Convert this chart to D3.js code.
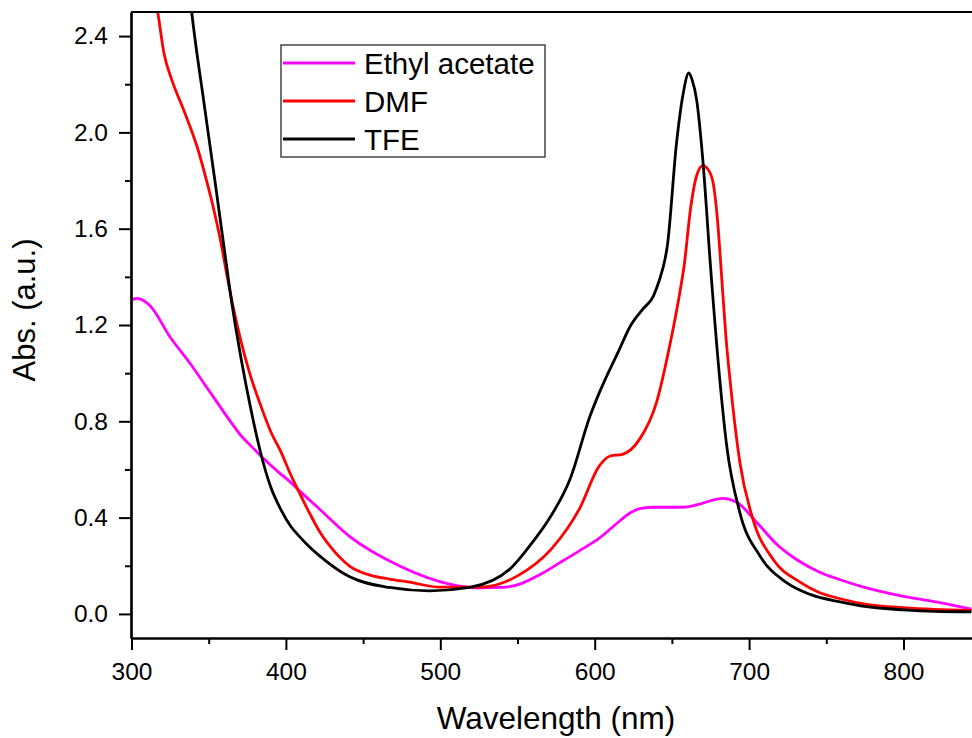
<!DOCTYPE html>
<html>
<head>
<meta charset="utf-8">
<script src="https://cdn.jsdelivr.net/npm/d3@7"></script>
<style>
  html, body { margin: 0; padding: 0; background: #fff; }
  svg { display: block; font-family: "Liberation Sans", Arial, sans-serif; }
</style>
</head>
<body>
<svg id="chart" width="972" height="738"></svg>
<script>
// ---------- data (wavelength nm, absorbance a.u.) ----------
const seriesNames = ["Ethyl acetate", "DMF", "TFE"];
const seriesColors = ["#FF00FF", "#FF0000", "#000000"];

const ethylAcetate = [
  [300, 1.305], [304, 1.31], [312, 1.28], [325, 1.15], [338, 1.04], [351, 0.92],
  [364, 0.80], [371, 0.74], [377, 0.70], [384, 0.655], [395, 0.59], [403, 0.547],
  [409, 0.51], [421, 0.44], [441, 0.323], [474, 0.198], [506, 0.124], [525, 0.108],
  [540, 0.11], [552, 0.125], [565, 0.165], [578, 0.215], [590, 0.262], [603, 0.315],
  [616, 0.385], [623, 0.42], [630, 0.438], [638, 0.443], [655, 0.443], [662, 0.447],
  [668, 0.456], [675, 0.47], [683, 0.48], [692, 0.464], [705, 0.38], [717, 0.295],
  [731, 0.225], [745, 0.175], [759, 0.142], [776, 0.108], [800, 0.073], [819, 0.052],
  [844, 0.02]
];

const dmf = [
  [310, 2.75], [317, 2.5], [321, 2.33], [326, 2.22], [334, 2.09], [343, 1.93],
  [349, 1.79], [354, 1.66], [358, 1.54], [362, 1.4], [366, 1.27], [371, 1.13],
  [377, 0.99], [384, 0.86], [390, 0.76], [397, 0.67], [403, 0.58], [409, 0.5],
  [416, 0.41], [422, 0.34], [430, 0.27], [441, 0.2], [455, 0.16], [467, 0.145],
  [480, 0.132], [500, 0.111], [526, 0.111], [550, 0.158], [572, 0.27], [590, 0.435],
  [603, 0.615], [610, 0.656], [618, 0.663], [629, 0.725], [640, 0.878], [649, 1.127],
  [655, 1.33], [658, 1.45], [662, 1.68], [666, 1.82], [670, 1.862], [674, 1.84],
  [677, 1.78], [680, 1.6], [682, 1.42], [685, 1.15], [688, 0.95], [694, 0.63],
  [702.5, 0.393], [715.5, 0.227], [733, 0.132], [745, 0.09], [759, 0.063], [776, 0.04],
  [800, 0.026], [820, 0.019], [844, 0.015]
];

const tfe = [
  [335, 2.75], [339, 2.5], [347, 2.12], [354, 1.8], [360, 1.52], [365, 1.29],
  [371, 1.06], [377, 0.86], [384, 0.66], [390, 0.53], [397, 0.43], [403, 0.365],
  [409, 0.32], [415, 0.28], [422, 0.24], [441, 0.155], [467, 0.11], [493, 0.096],
  [519, 0.11], [545, 0.186], [552, 0.235], [560, 0.3], [570, 0.39], [584, 0.559],
  [597, 0.822], [603, 0.919], [616, 1.099], [623, 1.195], [631, 1.265], [638, 1.32],
  [642, 1.389], [645.5, 1.472], [647, 1.527], [653, 1.956], [657, 2.15], [661, 2.247],
  [663, 2.22], [666, 2.136], [670, 1.888], [675, 1.444], [681, 0.974], [685.5, 0.698],
  [694, 0.421], [707, 0.241], [724, 0.131], [740, 0.08], [759, 0.05], [776, 0.03],
  [800, 0.017], [820, 0.011], [844, 0.009]
];

const seriesData = [ethylAcetate, dmf, tfe];

const xMajorTicks = [300, 400, 500, 600, 700, 800];
const xMinorTicks = [350, 450, 550, 650, 750];
const yMajorTicks = [0, 0.4, 0.8, 1.2, 1.6, 2.0, 2.4];
const yMinorTicks = [0.2, 0.6, 1.0, 1.4, 1.8, 2.2];

// ---------- layout ----------
const W = 972, H = 738;
const pLeft = 131, pTop = 12, pBottom = 638, pRight = 972;

const x = d3.scaleLinear().domain([300, 850]).range([131.5, 131.5 + 550 * 1.544]);
const y = d3.scaleLinear().domain([-0.1, 2.5]).range([pBottom, pTop]);

const svg = d3.select("#chart");

svg.append("defs").append("clipPath").attr("id", "plotClip")
  .append("rect").attr("x", pLeft).attr("y", pTop)
  .attr("width", pRight - pLeft).attr("height", pBottom - pTop);

// lines
const line = d3.line().x(d => x(d[0])).y(d => y(d[1])).curve(d3.curveMonotoneX);
const plot = svg.append("g").attr("clip-path", "url(#plotClip)");
seriesData.forEach((s, i) => {
  plot.append("path").datum(s)
    .attr("fill", "none")
    .attr("stroke", seriesColors[i])
    .attr("stroke-width", 2.8)
    .attr("stroke-linejoin", "round")
    .attr("d", line);
});

// top frame line
svg.append("line").attr("x1", pLeft).attr("x2", pRight).attr("y1", pTop).attr("y2", pTop)
  .attr("stroke", "#000").attr("stroke-width", 2.2);

// axes
const fmt = d3.format(".1f");
const yAxis = svg.append("g").attr("transform", `translate(${pLeft},0)`)
  .call(d3.axisLeft(y).tickValues(yMajorTicks).tickFormat(fmt).tickSize(12).tickSizeOuter(0).tickPadding(11));
const yMinor = svg.append("g").attr("transform", `translate(${pLeft},0)`)
  .call(d3.axisLeft(y).tickValues(yMinorTicks).tickFormat("").tickSize(6).tickSizeOuter(0));
const xAxis = svg.append("g").attr("transform", `translate(0,${pBottom})`)
  .call(d3.axisBottom(x).tickValues(xMajorTicks).tickFormat(d3.format("d")).tickSize(12).tickSizeOuter(0).tickPadding(13));
const xMinor = svg.append("g").attr("transform", `translate(0,${pBottom})`)
  .call(d3.axisBottom(x).tickValues(xMinorTicks).tickFormat("").tickSize(6).tickSizeOuter(0));

[yAxis, yMinor, xAxis, xMinor].forEach(g => {
  g.selectAll(".domain").attr("stroke", "#000").attr("stroke-width", 2.2);
  g.selectAll(".tick line").attr("stroke", "#000").attr("stroke-width", 2);
  g.selectAll("text").attr("font-size", 24.5).attr("fill", "#000")
    .attr("font-family", "'Liberation Sans', Arial, sans-serif");
});

// axis titles
svg.append("text")
  .attr("x", 556).attr("y", 729)
  .attr("text-anchor", "middle")
  .attr("font-size", 31.5).attr("fill", "#000")
  .text("Wavelength (nm)");

svg.append("text")
  .attr("transform", "translate(35,310) rotate(-90)")
  .attr("text-anchor", "middle")
  .attr("font-size", 31).attr("fill", "#000")
  .text("Abs. (a.u.)");

// legend
const legend = svg.append("g");
legend.append("rect").attr("x", 281).attr("y", 45).attr("width", 264).attr("height", 112)
  .attr("fill", "#fff").attr("stroke", "#444").attr("stroke-width", 1.5);
const rowY = [63, 101, 139];
seriesNames.forEach((name, i) => {
  legend.append("line").attr("x1", 283).attr("x2", 355)
    .attr("y1", rowY[i]).attr("y2", rowY[i])
    .attr("stroke", seriesColors[i]).attr("stroke-width", 3);
  legend.append("text").attr("x", 364).attr("y", rowY[i] + 10.5)
    .attr("font-size", 29.5).attr("fill", "#000").text(name);
});
</script>
</body>
</html>
